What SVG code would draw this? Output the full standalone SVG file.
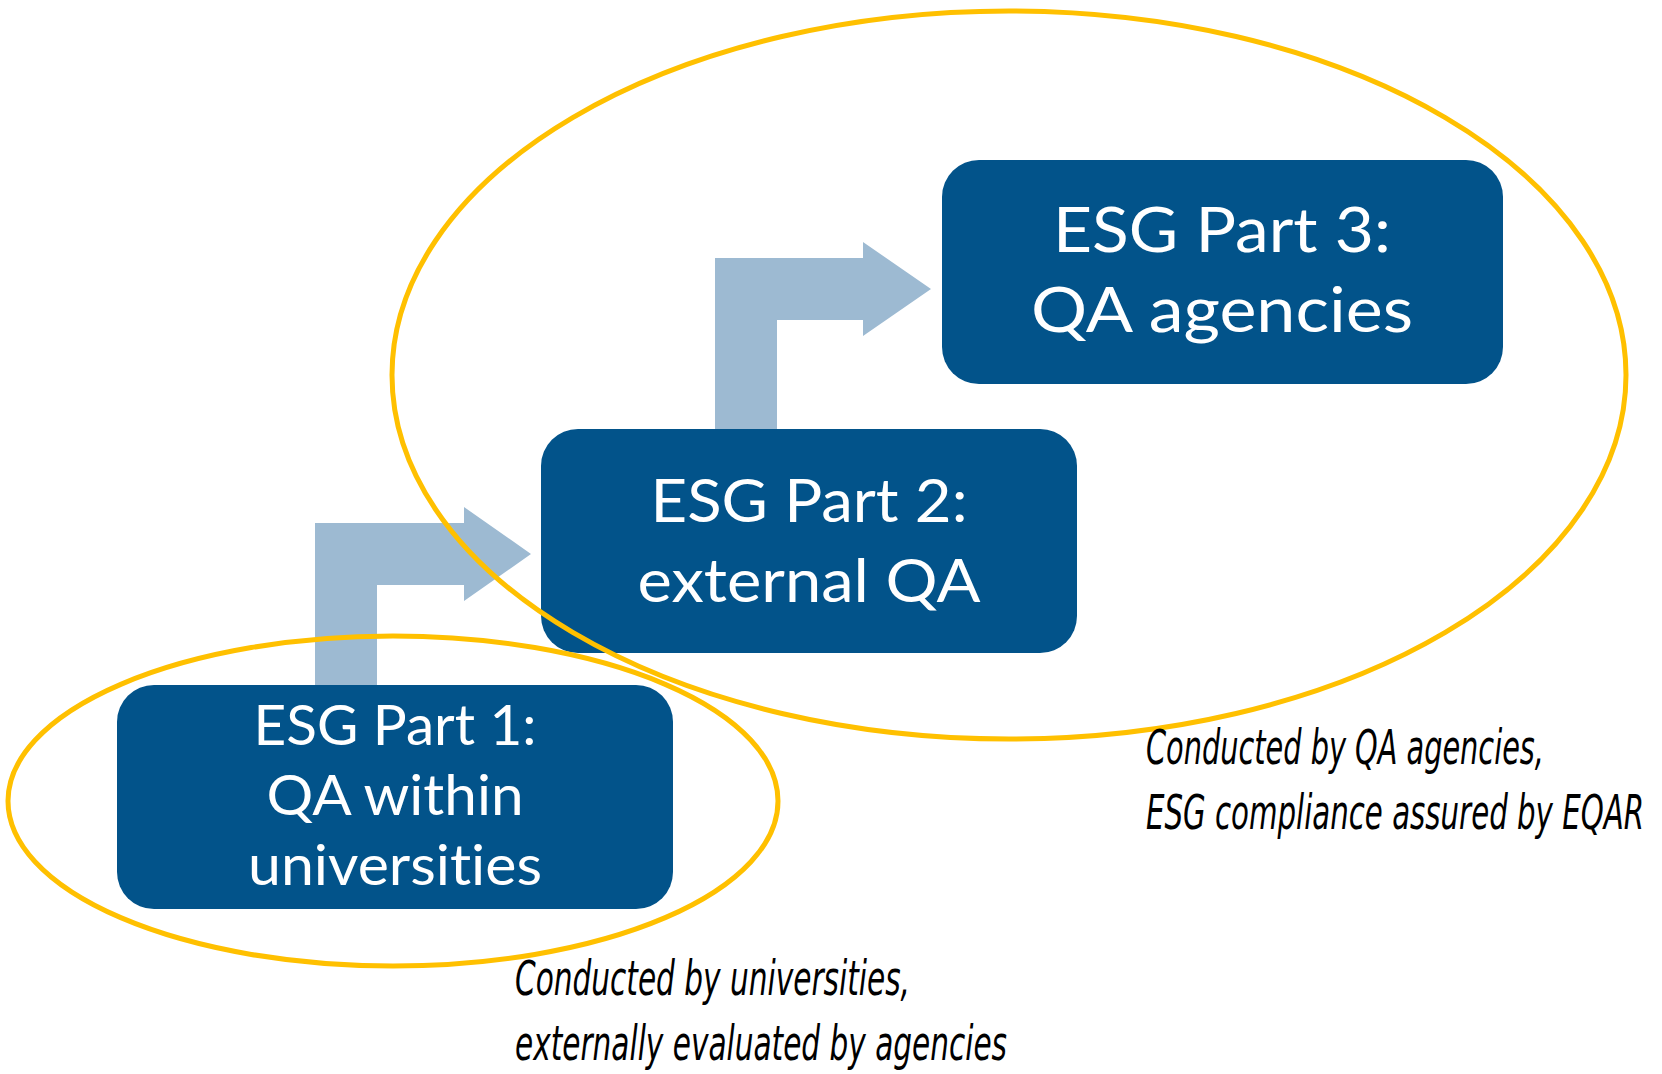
<svg xmlns="http://www.w3.org/2000/svg" width="1662" height="1074" viewBox="0 0 1662 1074">
  <style>
    .box { fill: #02538A; }
    .arrow { fill: #9DBAD2; }
    .ring { fill: none; stroke: #FFC000; stroke-width: 5; }
    .lbl { font-family: Lato, "Open Sans", "Liberation Sans", sans-serif; fill: #FFFFFF; text-anchor: middle; font-variant-ligatures: none; }
    .note { font-family: "DejaVu Sans Condensed", "Liberation Sans Narrow", "Liberation Sans", sans-serif; font-style: italic; fill: #000000; }
  </style>
  <rect width="1662" height="1074" fill="#FFFFFF"/>
  <g id="connectors">
    <polygon class="arrow" points="315,685 315,523 464,523 464,507 531,554 464,601 464,585 377,585 377,685"/>
    <polygon class="arrow" points="715,429 715,258 863,258 863,242 931,289 863,336 863,320 777,320 777,429"/>
  </g>
  <g id="part1">
    <rect class="box" x="117" y="685" width="556" height="224" rx="37"/>
    <text class="lbl" font-size="56" x="395" y="745" textLength="283" lengthAdjust="spacingAndGlyphs">ESG Part 1:</text>
    <text class="lbl" font-size="56" x="395" y="815" textLength="257" lengthAdjust="spacingAndGlyphs">QA within</text>
    <text class="lbl" font-size="56" x="395" y="885" textLength="294" lengthAdjust="spacingAndGlyphs">universities</text>
  </g>
  <g id="part2">
    <rect class="box" x="541" y="429" width="536" height="224" rx="37"/>
    <text class="lbl" font-size="60" x="809" y="522" textLength="317" lengthAdjust="spacingAndGlyphs">ESG Part 2:</text>
    <text class="lbl" font-size="60" x="809" y="602" textLength="343" lengthAdjust="spacingAndGlyphs">external QA</text>
  </g>
  <g id="part3">
    <rect class="box" x="942" y="160" width="561" height="224" rx="37"/>
    <text class="lbl" font-size="61" x="1222" y="252" textLength="338" lengthAdjust="spacingAndGlyphs">ESG Part 3:</text>
    <text class="lbl" font-size="61" x="1222" y="332" textLength="382" lengthAdjust="spacingAndGlyphs">QA agencies</text>
  </g>
  <g id="scope-agencies">
    <ellipse class="ring" cx="1009" cy="375" rx="617" ry="364"/>
    <text class="note" font-size="30" transform="translate(1146,764) scale(1,1.58)" x="0" y="0" textLength="398" lengthAdjust="spacingAndGlyphs">Conducted by QA agencies,</text>
    <text class="note" font-size="30" transform="translate(1146,829) scale(1,1.58)" x="0" y="0" textLength="498" lengthAdjust="spacingAndGlyphs">ESG compliance assured by EQAR</text>
  </g>
  <g id="scope-universities">
    <ellipse class="ring" cx="393" cy="801" rx="385" ry="165"/>
    <text class="note" font-size="32" transform="translate(515,995) scale(1,1.5)" x="0" y="0" textLength="395" lengthAdjust="spacingAndGlyphs">Conducted by universities,</text>
    <text class="note" font-size="32" transform="translate(515,1060) scale(1,1.5)" x="0" y="0" textLength="492" lengthAdjust="spacingAndGlyphs">externally evaluated by agencies</text>
  </g>
</svg>
